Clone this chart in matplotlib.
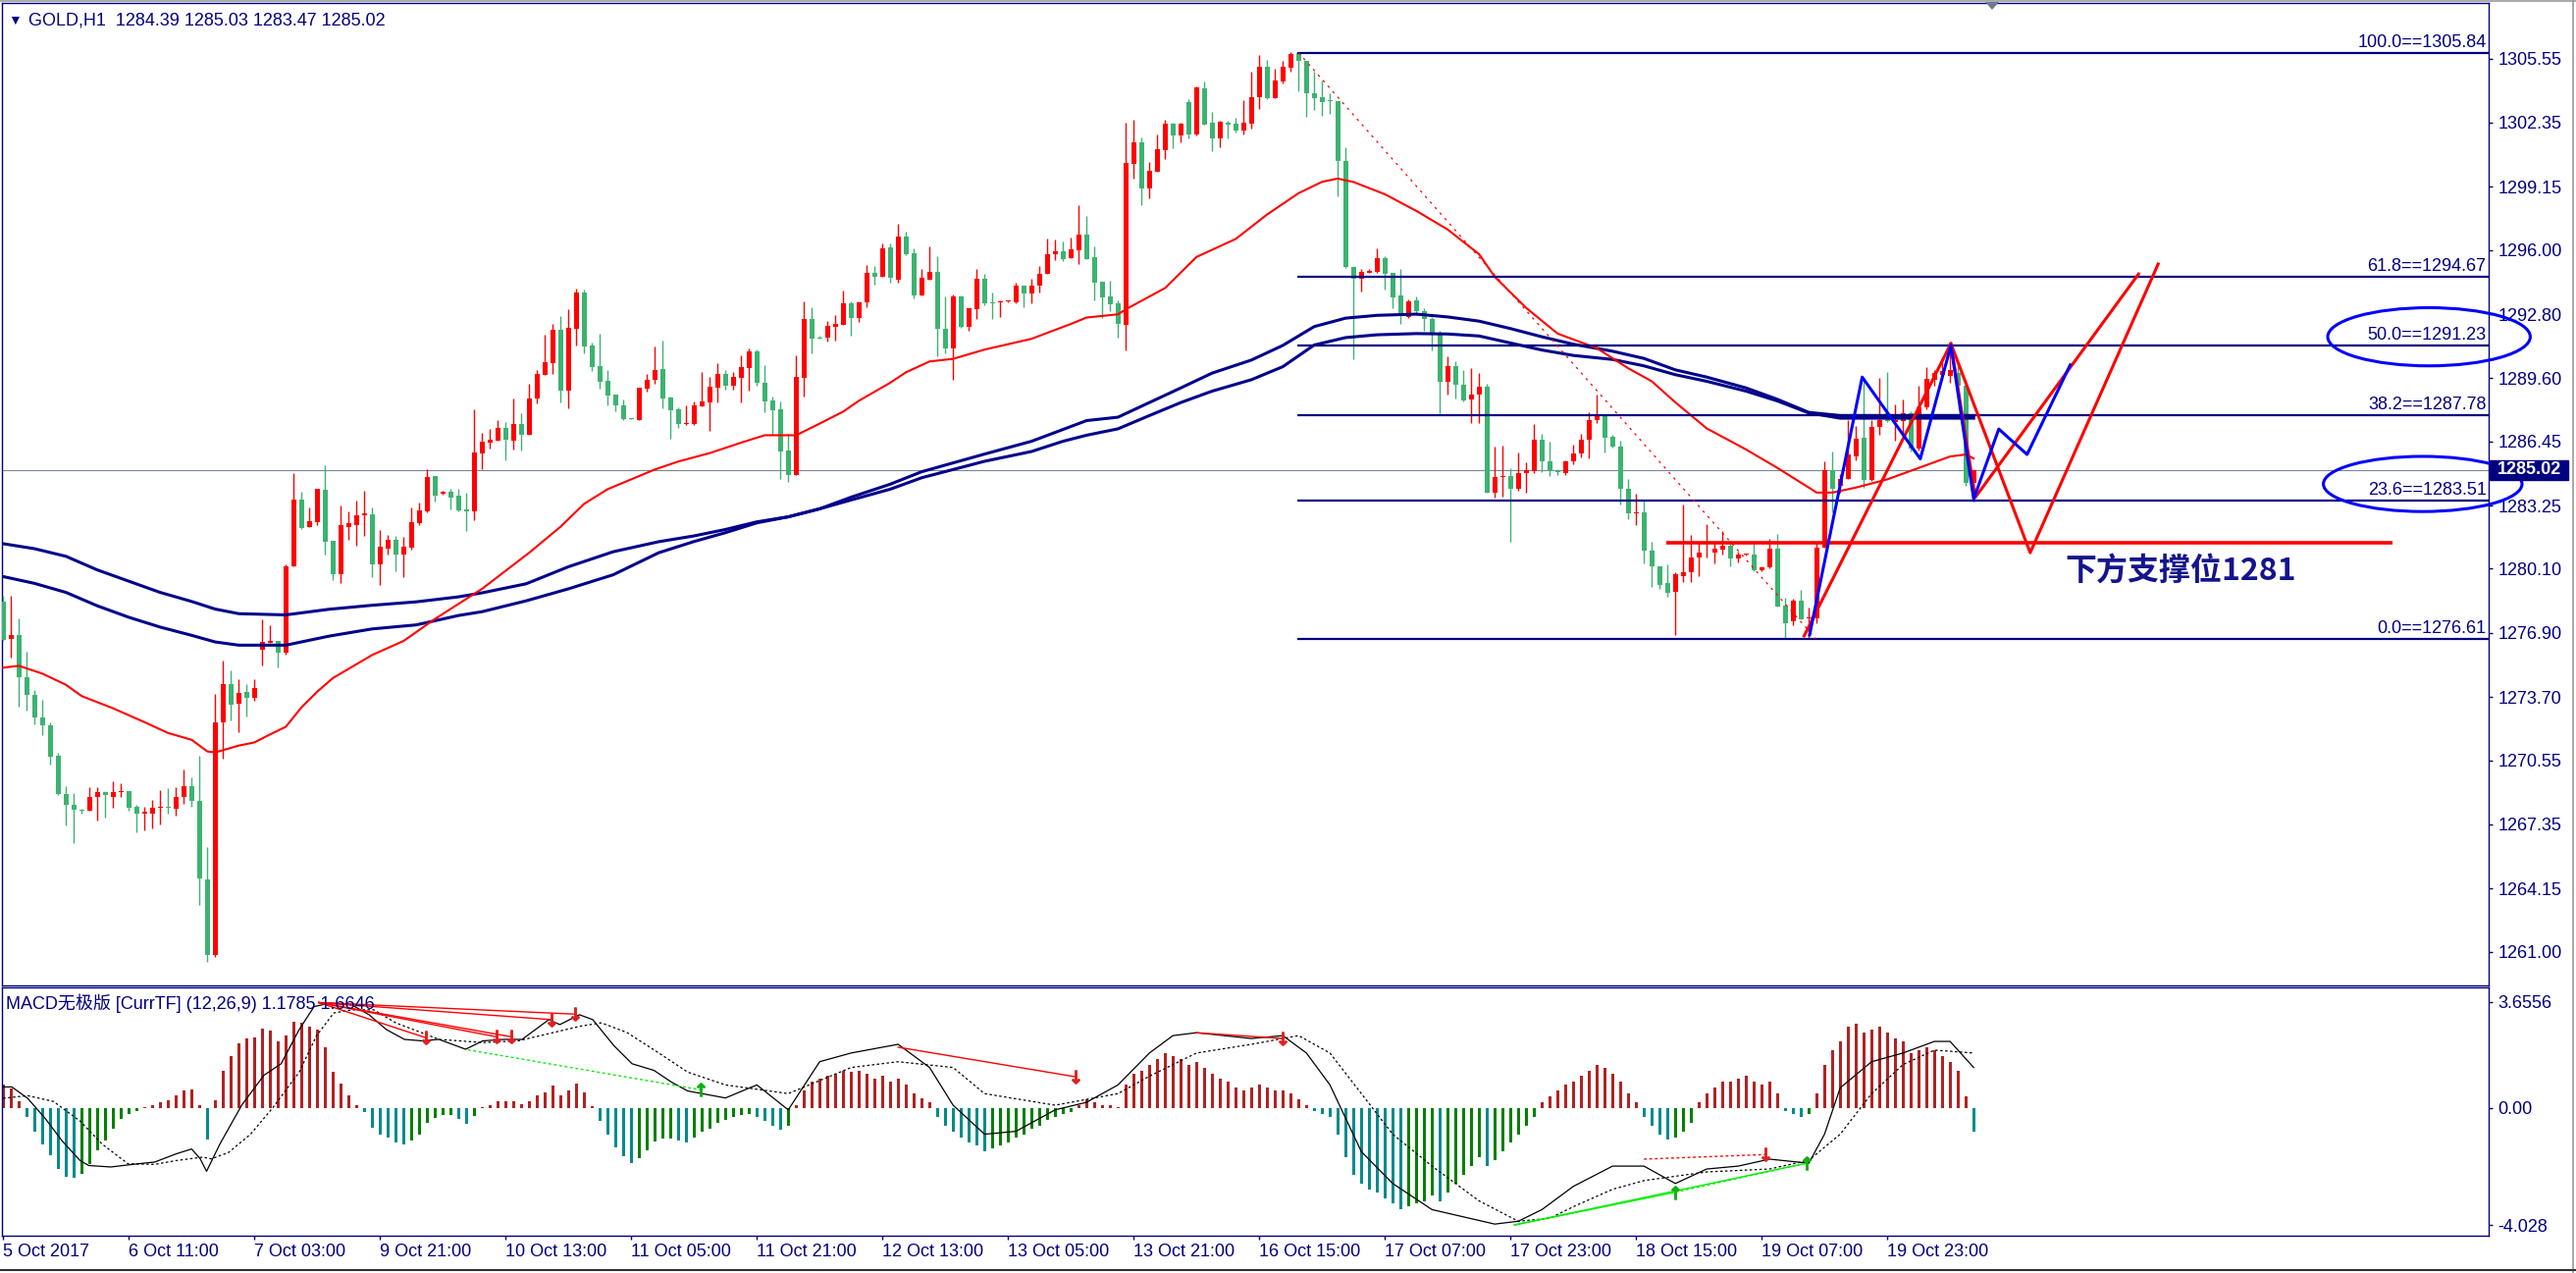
import matplotlib
matplotlib.use("Agg")
import matplotlib.pyplot as plt
import matplotlib.transforms as mtrans
from matplotlib.patches import Ellipse, Polygon, Rectangle
from matplotlib.lines import Line2D

plt.rcParams['font.family'] = ['Liberation Sans', 'DejaVu Sans', 'Noto Sans CJK SC']

# ---------------- data ----------------
OPEN = [
1278.47,1276.60,1276.78,1274.69,1273.82,1272.67,1272.29,1270.78,1268.87,1268.31,
1268.09,1268.02,1268.74,1268.96,1268.74,1268.96,1269.01,1268.25,1267.91,1267.91,
1268.16,1268.22,1268.13,1268.70,1269.26,1268.54,1264.60,1260.83,1272.45,1274.36,
1273.35,1273.95,1273.64,1276.04,1276.38,1276.51,1275.89,1280.20,1283.55,1282.18,
1282.42,1284.04,1281.50,1279.82,1282.20,1282.28,1282.77,1282.82,1280.30,1281.10,
1281.54,1280.80,1281.14,1282.39,1282.98,1284.73,1283.83,1283.94,1283.75,1283.06,
1282.98,1285.87,1286.41,1286.49,1287.12,1286.49,1287.30,1286.80,1288.59,1289.78,
1290.35,1292.02,1289.00,1292.08,1293.88,1291.22,1290.19,1289.46,1288.77,1288.23,
1287.61,1287.53,1289.10,1289.51,1290.06,1288.64,1288.07,1287.32,1287.34,1288.20,
1288.40,1289.13,1289.81,1289.24,1289.62,1290.11,1290.96,1289.37,1288.48,1288.05,
1285.98,1284.77,1289.62,1292.56,1291.63,1291.63,1292.18,1292.28,1293.34,1292.59,
1293.40,1294.86,1294.68,1296.11,1294.51,1296.67,1295.84,1293.73,1294.51,1294.91,
1292.07,1291.09,1293.70,1292.15,1293.05,1294.56,1293.37,1293.37,1293.43,1293.40,
1294.21,1293.82,1294.23,1294.80,1295.80,1295.93,1295.57,1295.98,1296.79,1295.62,
1294.41,1293.68,1293.32,1292.27,1300.30,1301.36,1299.08,1299.89,1300.99,1302.29,
1301.72,1303.37,1301.77,1304.05,1302.34,1301.57,1302.37,1302.29,1301.96,1302.31,
1303.60,1305.15,1303.56,1304.41,1305.08,1305.80,1305.41,1303.84,1303.64,1303.45,
1303.41,1300.46,1295.17,1294.55,1294.86,1294.90,1295.58,1294.86,1293.73,1292.66,
1293.48,1292.97,1292.55,1291.83,1289.44,1290.23,1289.30,1288.52,1288.78,1289.20,
1283.88,1284.66,1284.73,1284.11,1284.87,1284.97,1286.52,1285.45,1285.01,1284.87,
1285.45,1285.84,1286.52,1287.51,1287.71,1286.68,1286.21,1284.09,1282.85,1282.91,
1281.00,1280.20,1279.38,1278.93,1279.74,1279.91,1280.67,1281.34,1280.92,1281.05,
1281.24,1280.61,1280.79,1280.80,1280.02,1280.18,1281.08,1278.27,1277.46,1278.52,
1277.62,1277.65,1281.13,1285.04,1284.26,1284.60,1285.70,1286.63,1284.51,1287.17,
1287.87,1287.44,1287.49,1287.87,1286.11,1288.15,1289.53,1289.78,1289.70,1289.86,
1289.21,1284.39]
HIGH = [
1278.76,1278.76,1277.64,1275.98,1274.04,1273.57,1272.45,1270.94,1269.26,1268.92,
1268.13,1269.21,1269.19,1269.03,1269.50,1269.41,1269.01,1268.34,1268.25,1268.58,
1269.08,1269.17,1269.19,1270.09,1269.71,1270.78,1266.22,1273.86,1275.53,1275.03,
1274.60,1274.36,1274.60,1277.57,1277.30,1276.51,1280.33,1284.85,1283.95,1283.17,
1284.09,1285.28,1281.50,1283.26,1282.98,1283.50,1283.99,1283.17,1282.03,1281.79,
1281.74,1281.71,1283.17,1283.40,1285.05,1284.73,1283.99,1284.11,1284.11,1283.91,
1288.07,1286.88,1287.09,1287.53,1287.42,1288.61,1287.86,1289.33,1290.02,1291.79,
1292.31,1292.70,1293.05,1294.07,1294.02,1291.38,1291.82,1289.99,1288.77,1288.56,
1287.62,1289.13,1289.82,1291.20,1291.50,1288.69,1288.15,1288.23,1288.43,1289.91,
1289.67,1290.35,1290.03,1289.91,1290.76,1291.09,1291.04,1290.27,1288.69,1288.43,
1286.85,1290.76,1293.45,1293.16,1291.72,1292.48,1292.77,1293.98,1293.42,1293.42,
1295.25,1295.20,1296.34,1296.34,1297.32,1296.93,1296.06,1295.05,1296.20,1295.69,
1293.70,1293.78,1293.75,1293.10,1295.05,1294.79,1293.86,1293.51,1293.49,1294.38,
1294.21,1294.56,1295.21,1296.58,1296.52,1296.42,1296.61,1298.23,1297.69,1296.17,
1294.41,1294.46,1293.48,1302.34,1302.50,1301.61,1300.38,1301.77,1302.50,1302.34,
1302.34,1303.53,1304.18,1304.41,1302.91,1302.47,1302.47,1302.58,1303.48,1304.90,
1305.72,1305.47,1305.03,1305.41,1305.85,1305.88,1305.41,1304.90,1304.46,1303.82,
1303.41,1301.14,1295.17,1295.07,1295.03,1296.10,1295.69,1294.86,1295.07,1293.56,
1293.69,1293.11,1292.66,1291.98,1290.68,1290.47,1290.02,1290.12,1289.86,1289.34,
1286.21,1286.25,1285.12,1285.90,1285.39,1287.34,1286.83,1286.46,1285.05,1285.53,
1286.31,1286.83,1287.90,1288.78,1287.75,1286.77,1286.48,1284.60,1283.84,1283.53,
1281.47,1280.20,1280.31,1279.91,1283.33,1281.78,1281.41,1282.32,1281.41,1281.99,
1281.45,1280.97,1280.84,1281.45,1280.23,1281.57,1281.83,1278.68,1278.60,1279.04,
1278.19,1281.45,1285.45,1285.97,1284.80,1287.54,1287.21,1289.61,1287.54,1289.61,
1289.89,1288.31,1288.55,1287.98,1289.24,1290.18,1290.02,1290.67,1291.00,1290.35,
1289.53,1285.03]
LOW = [
1276.51,1275.66,1273.23,1273.01,1272.34,1271.80,1270.31,1268.81,1267.30,1266.40,
1267.91,1268.02,1267.53,1267.68,1268.20,1268.70,1268.02,1266.94,1267.05,1267.17,
1267.35,1267.91,1267.80,1268.36,1268.25,1263.35,1260.49,1260.72,1270.65,1272.56,
1271.93,1272.74,1273.52,1275.28,1276.38,1275.17,1275.84,1280.20,1282.06,1282.18,
1282.29,1280.83,1279.52,1279.40,1281.54,1281.25,1281.74,1279.70,1279.30,1280.80,
1280.00,1279.70,1281.05,1282.28,1282.93,1283.47,1283.78,1283.04,1282.98,1282.00,
1282.52,1285.05,1286.11,1286.49,1285.49,1286.06,1285.98,1286.80,1288.36,1289.78,
1289.83,1288.40,1288.12,1291.25,1290.84,1289.98,1289.08,1288.27,1287.94,1287.53,
1287.56,1287.53,1288.92,1289.34,1288.10,1286.60,1287.14,1287.25,1287.29,1288.20,
1286.98,1288.40,1289.05,1289.05,1288.40,1289.00,1289.21,1287.91,1286.80,1284.59,
1284.45,1284.77,1288.69,1290.84,1291.58,1291.41,1291.50,1292.28,1291.74,1292.43,
1293.13,1294.27,1294.68,1294.38,1294.38,1295.74,1293.58,1293.73,1294.51,1290.68,
1290.84,1289.54,1292.12,1291.95,1292.56,1293.26,1292.56,1292.66,1293.40,1293.32,
1293.15,1293.35,1293.89,1294.80,1295.49,1295.45,1295.57,1295.29,1295.54,1293.48,
1292.63,1292.93,1291.62,1291.00,1299.57,1298.26,1298.59,1299.89,1300.55,1301.08,
1301.39,1301.57,1301.69,1302.26,1300.92,1301.12,1301.57,1301.85,1301.77,1302.06,
1303.04,1303.51,1303.56,1304.33,1304.87,1303.92,1302.62,1302.99,1302.71,1302.79,
1298.67,1295.11,1290.53,1293.93,1294.86,1294.86,1294.04,1293.11,1292.29,1292.60,
1292.74,1291.98,1291.01,1287.86,1288.78,1288.58,1288.43,1287.38,1287.38,1283.88,
1283.63,1283.68,1281.47,1284.00,1283.88,1284.87,1284.91,1284.71,1284.77,1284.77,
1285.32,1285.65,1285.59,1287.38,1285.90,1286.15,1283.33,1282.56,1282.30,1280.38,
1279.21,1279.12,1278.71,1276.81,1279.45,1279.42,1279.74,1280.64,1280.39,1280.83,
1280.23,1280.43,1280.76,1279.99,1279.99,1280.12,1278.22,1276.67,1277.29,1277.57,
1276.67,1277.38,1281.13,1282.92,1283.90,1284.56,1285.49,1284.15,1284.47,1286.76,
1287.41,1286.51,1286.59,1285.94,1286.02,1288.06,1289.21,1289.70,1289.37,1288.80,
1284.23,1283.47]
CLOSE = [
1276.56,1276.78,1274.69,1273.82,1272.67,1272.27,1270.72,1268.85,1268.31,1268.07,
1268.02,1268.70,1268.96,1268.81,1268.96,1269.01,1268.20,1267.91,1267.98,1268.18,
1268.22,1268.20,1268.70,1269.26,1268.52,1264.65,1260.83,1272.45,1274.36,1273.30,
1273.91,1273.64,1274.15,1276.45,1276.51,1275.89,1280.22,1283.55,1282.13,1282.47,
1284.09,1281.46,1279.82,1282.28,1282.36,1282.77,1282.85,1280.33,1281.20,1281.54,
1280.80,1281.18,1282.41,1283.01,1284.68,1283.75,1283.94,1283.66,1283.01,1282.98,
1285.90,1286.44,1286.52,1287.12,1286.55,1287.30,1286.80,1288.59,1289.81,1290.40,
1292.02,1288.97,1292.12,1293.88,1291.20,1290.16,1289.44,1288.76,1288.23,1287.58,
1287.58,1289.13,1289.54,1290.03,1288.61,1288.02,1287.34,1287.37,1288.23,1288.43,
1289.18,1289.81,1289.24,1289.67,1290.16,1290.96,1289.37,1288.44,1288.02,1285.95,
1284.77,1289.67,1292.56,1291.58,1291.58,1292.20,1292.31,1293.34,1292.59,1293.37,
1294.86,1294.68,1296.08,1294.60,1296.67,1295.79,1293.73,1294.60,1294.91,1292.07,
1291.09,1293.70,1292.15,1293.10,1294.56,1293.34,1293.34,1293.45,1293.45,1294.21,
1293.82,1294.21,1294.83,1295.81,1295.93,1295.54,1296.03,1296.79,1295.54,1294.38,
1293.64,1293.28,1292.31,1300.33,1301.36,1299.08,1299.94,1301.02,1302.29,1301.72,
1302.29,1301.77,1304.10,1302.26,1301.56,1302.39,1302.26,1301.96,1302.34,1303.61,
1305.15,1303.56,1304.46,1305.15,1305.77,1305.41,1303.81,1303.56,1303.37,1303.41,
1300.42,1295.17,1294.55,1294.90,1294.96,1295.58,1294.80,1293.63,1292.74,1293.46,
1292.94,1292.55,1291.87,1289.44,1290.23,1289.30,1288.48,1288.78,1289.20,1283.88,
1284.66,1284.73,1284.11,1284.87,1285.01,1286.56,1285.45,1285.01,1284.91,1285.45,
1285.86,1286.56,1287.51,1287.71,1286.62,1286.21,1284.09,1282.85,1282.91,1281.00,
1280.24,1279.30,1278.89,1279.81,1279.91,1280.64,1280.92,1281.41,1281.08,1281.24,
1280.61,1280.80,1280.80,1280.02,1280.18,1281.08,1278.22,1277.38,1278.52,1277.57,
1277.70,1281.13,1285.04,1284.07,1284.60,1285.78,1286.59,1284.51,1287.17,1287.54,
1287.49,1287.54,1287.87,1286.11,1288.15,1289.56,1289.86,1289.94,1290.02,1289.21,
1284.39,1285.02]

# moving averages (bar index, price)
RED_MA_X = [0,2,5,8,10,14,18,21,24,26,27,30,32,34,36,38,40,42,47,51,55,61,67,71,74,77,80,83,86,90,94,97,101,
            104,107,109,113,115,118,121,125,131,136,138,142,143,148,152,157,161,165,168,170,172,176,180,184,188,
            190,194,198,203,207,210,213,217,222,226,230,231,233,236,240,244,248,250,251]
RED_MA_Y = [1275.17,1275.26,1274.87,1274.31,1273.75,1273.14,1272.45,1271.91,1271.57,1270.99,1270.94,1271.28,
            1271.44,1271.84,1272.22,1273.19,1273.97,1274.65,1275.80,1276.50,1277.60,1279.10,1280.90,1282.20,
            1283.34,1284.07,1284.56,1285.05,1285.45,1285.87,1286.39,1286.76,1286.76,1287.34,1287.94,1288.48,
            1289.38,1289.90,1290.44,1290.57,1291.03,1291.57,1292.31,1292.63,1292.79,1293.04,1294.10,1295.65,
            1296.55,1297.77,1298.83,1299.40,1299.56,1299.39,1298.78,1297.95,1297.02,1295.79,1294.66,1293.11,
            1291.83,1291.10,1290.10,1289.45,1288.40,1287.10,1286.05,1285.13,1284.15,1283.90,1283.90,1284.15,
            1284.56,1285.13,1285.70,1285.80,1285.60]
BLUE_UP_X = [0,4,8,12,16,20,24,27,30,36,41.5,47,52.6,58,61,66.6,72,77.7,83.5,88,92,96,100,104,108,113,117,121,
             125,131,138,142,146,150,154,159,163,167,171,175,180,184,188,192,196,200,205,209,213,217,222,226,230,
             234,251]
BLUE_UP_Y = [1281.35,1281.10,1280.72,1280.04,1279.48,1278.92,1278.47,1278.09,1277.86,1277.80,1278.08,1278.28,
             1278.45,1278.70,1278.90,1279.35,1280.20,1280.95,1281.45,1281.74,1282.06,1282.44,1282.69,1283.09,
             1283.67,1284.32,1284.94,1285.38,1285.82,1286.46,1287.49,1287.66,1288.39,1289.12,1289.86,1290.51,
             1291.24,1292.18,1292.60,1292.74,1292.80,1292.66,1292.45,1292.08,1291.67,1291.30,1290.95,1290.59,
             1290.02,1289.66,1289.12,1288.55,1287.90,1287.74,1287.74]
BLUE_LO_X = [0,4,8,12,16,20,24,27,30,36,41.5,47,52.6,58,61,66.6,72,77.7,83.5,88,92,96,100,104,108,113,117,121,
             125,131,135,138,142,146,150,154,159,163,167,171,175,180,184,188,192,196,200,205,209,213,217,222,226,
             230,234,251]
BLUE_LO_Y = [1279.71,1279.37,1278.92,1278.25,1277.68,1277.19,1276.78,1276.45,1276.29,1276.29,1276.74,1277.10,
             1277.30,1277.77,1277.96,1278.50,1279.10,1279.80,1280.90,1281.46,1281.90,1282.39,1282.69,1283.09,
             1283.53,1284.07,1284.64,1285.05,1285.46,1285.95,1286.46,1286.76,1287.08,1287.74,1288.39,1288.96,
             1289.53,1290.18,1291.26,1291.63,1291.77,1291.83,1291.81,1291.71,1291.36,1291.01,1290.74,1290.54,
             1290.22,1289.78,1289.45,1288.96,1288.47,1287.87,1287.61,1287.61]

PRICE_TICKS = [1305.55,1302.35,1299.15,1296.00,1292.80,1289.60,1286.45,1283.25,1280.10,1276.90,
               1273.70,1270.55,1267.35,1264.15,1261.00]
TIME_TICKS = [0,16,32,48,64,80,96,112,128,144,160,176,192,208,224,240]
TIME_LABELS = ["5 Oct 2017","6 Oct 11:00","7 Oct 03:00","9 Oct 21:00","10 Oct 13:00","11 Oct 05:00",
               "11 Oct 21:00","12 Oct 13:00","13 Oct 05:00","13 Oct 21:00","16 Oct 15:00","17 Oct 07:00",
               "17 Oct 23:00","18 Oct 15:00","19 Oct 07:00","19 Oct 23:00"]

FIB_NAMES = ["100.0","61.8","50.0","38.2","23.6","0.0"]
FIB_VALUES = [1305.84,1294.67,1291.23,1287.78,1283.51,1276.61]
FIB_START = 164.8
FIB_TREND_X = [165.0, 230.9]
FIB_TREND_Y = [1305.84, 1276.61]

BID = 1285.02
SUPPORT_X = [211.9, 304.4]
SUPPORT_Y = [1281.4, 1281.4]
SUPPORT_TEXT = "下方支撑位1281"

BLUE_ZZ_X = [230.1,236.8,244.2,248.1,251.0,254.2,257.8,263.3]
BLUE_ZZ_Y = [1276.80,1289.66,1285.58,1291.24,1283.58,1287.07,1285.80,1290.27]
RED_ZZ_A_X = [229.4,248.1,251.2,272.0]
RED_ZZ_A_Y = [1276.75,1291.33,1283.66,1294.80]
RED_ZZ_B_X = [248.1,258.2,274.5]
RED_ZZ_B_Y = [1291.33,1280.90,1295.30]

# ellipse annotations: centre bar, centre price, width (bars), height (price)
ELL_X = [309.0, 308.2]
ELL_Y = [1291.67, 1284.33]
ELL_W = [25.8, 25.3]
ELL_H = [2.9, 2.75]

HEADER = "GOLD,H1  1284.39 1285.03 1283.47 1285.02"
MACD_TITLE = "MACD无极版 [CurrTF] (12,26,9) 1.1785 1.6646"

HIST = [
0.81,0.68,0.23,-0.32,-0.81,-1.24,-1.64,-2.09,-2.37,-2.40,
-2.26,-1.92,-1.47,-1.13,-0.70,-0.37,-0.20,-0.09,0.03,0.09,
0.20,0.26,0.43,0.61,0.64,0.09,-1.10,0.26,1.28,1.81,
2.24,2.41,2.45,2.73,2.66,2.29,2.51,2.99,2.96,2.80,
2.71,2.09,1.24,0.85,0.43,0.11,-0.14,-0.68,-0.90,-1.02,
-1.19,-1.24,-1.11,-0.90,-0.51,-0.34,-0.25,-0.25,-0.36,-0.54,
-0.28,0.02,0.09,0.25,0.25,0.25,0.14,0.25,0.43,0.53,
0.79,0.45,0.60,0.85,0.54,0.06,-0.45,-0.93,-1.36,-1.66,
-1.90,-1.73,-1.45,-1.15,-1.05,-1.05,-1.13,-1.20,-1.00,-0.80,
-0.70,-0.50,-0.40,-0.30,-0.25,-0.20,-0.30,-0.45,-0.60,-0.75,
-0.60,0.10,0.60,0.90,1.00,1.10,1.20,1.30,1.25,1.30,
1.20,1.00,1.10,0.90,1.00,0.80,0.50,0.35,0.20,-0.30,
-0.60,-0.80,-1.00,-1.20,-1.30,-1.50,-1.40,-1.30,-1.20,-1.00,
-0.90,-0.70,-0.60,-0.40,-0.30,-0.20,-0.15,0.10,0.30,0.20,
0.10,0.10,0.05,0.80,1.20,1.30,1.50,1.70,1.90,1.80,
1.70,1.50,1.60,1.40,1.20,1.00,0.90,0.70,0.60,0.70,
0.80,0.70,0.60,0.60,0.50,0.30,0.10,-0.10,-0.20,-0.30,
-0.90,-1.70,-2.30,-2.60,-2.80,-2.90,-3.10,-3.30,-3.50,-3.40,
-3.30,-3.20,-3.00,-3.20,-2.90,-2.60,-2.30,-2.00,-1.70,-2.00,
-1.80,-1.50,-1.20,-0.90,-0.60,-0.30,0.20,0.40,0.60,0.80,
0.90,1.10,1.30,1.50,1.40,1.20,0.90,0.50,0.20,-0.30,
-0.60,-0.90,-1.10,-1.00,-0.80,-0.50,0.20,0.50,0.70,0.90,
0.90,1.00,1.10,0.90,0.80,0.90,0.50,-0.10,-0.20,-0.30,
-0.20,0.50,1.50,2.00,2.30,2.80,2.90,2.60,2.70,2.80,
2.60,2.40,2.30,1.90,2.00,2.10,2.00,1.80,1.60,1.30,
0.40,-0.80]
MACD_X = [0,1.1,3.1,5.3,7.5,9.8,10.9,13.7,16.5,19.3,22.0,24.0,25.1,25.9,27.6,30.4,33.2,35.4,37.7,39.6,41.6,
          44.4,46.6,48.8,51.1,53.3,55.5,58.9,61.1,63.9,66.1,69.5,70.9,73.4,75.1,77.8,80.1,82.9,85.1,87.2,92,96,
          100,104,108,114,118,121,125,129,134,138,142,146,149,152,159,163,166,169,173,177,182,186,190,193,196,
          200,205,209,213,217,221,225,230,232,234,238,242,246,248,251]
MACD_Y = [0.73,0.73,0.34,-0.34,-1.13,-1.81,-1.98,-2.03,-1.94,-1.86,-1.58,-1.41,-1.75,-2.18,-1.24,0.11,1.13,
          1.53,2.71,3.50,3.62,3.56,3.22,2.71,2.37,2.32,2.37,2.03,2.32,2.37,2.37,3.05,2.88,3.22,3.05,2.15,1.53,
          1.30,0.90,0.59,0.35,0.80,-0.06,1.60,1.90,2.20,1.40,0.10,-0.90,-0.80,-0.06,0.20,0.80,1.90,2.50,2.60,
          2.40,2.50,1.90,0.80,-1.50,-2.60,-3.50,-3.75,-4.00,-3.90,-3.50,-2.70,-2.00,-2.00,-2.60,-2.10,-2.00,
          -1.76,-1.90,-0.90,0.70,1.60,1.90,2.30,2.30,1.40]
SIG_X = [0,3.1,6.4,9.8,12.6,15.9,19.3,22.0,25.4,26.5,28.7,31.5,34.3,37.7,39.9,42.1,44.4,47.2,50.0,53.3,55.5,
         61.1,65.6,70.0,73.4,76.2,79.5,83.4,87.2,92,100,108,114,121,125,134,142,146,152,159,165,169,173,177,
         182,188,193,197,200,205,209,217,225,230,234,238,242,246,251]
SIG_Y = [0.34,0.43,0.23,-0.45,-1.24,-1.92,-1.94,-1.81,-1.69,-1.75,-1.53,-0.90,0.00,1.24,2.49,3.28,3.39,3.39,
         2.94,2.60,2.37,2.26,2.32,2.60,2.82,2.94,2.60,1.92,1.24,0.80,0.50,1.40,1.60,1.40,0.50,0.10,0.50,1.10,
         1.90,2.20,2.50,1.90,0.50,-0.90,-2.00,-3.20,-3.90,-3.80,-3.40,-2.80,-2.50,-2.20,-2.10,-1.80,-0.90,0.50,
         1.50,2.00,1.90]

# divergence segments: x0, y0, x1, y1
RED_DIV = [(40.2,3.64,53.8,2.43),(40.2,3.64,62.8,2.46),(40.2,3.64,64.7,2.46),(40.2,3.64,69.9,3.05),
           (40.2,3.64,72.9,3.24),(114,2.10,136.6,1.08),(152,2.60,163,2.40)]
RED_DIV_DOT = [(209,-1.76,224.5,-1.60)]
RED_ARROW_X = [53.8,62.8,64.7,69.9,72.9,136.6,163,224.5]
RED_ARROW_Y = [2.43,2.46,2.46,3.05,3.24,1.08,2.40,-1.60]
GREEN_DIV = [(192.5,-4.03,213,-2.90),(192.5,-4.03,229.7,-1.90)]
GREEN_DIV_DOT = [(59.2,2.01,88.9,0.63),(213,-2.90,229.7,-1.90)]
GREEN_ARROW_X = [88.9,213,229.7]
GREEN_ARROW_Y = [0.63,-2.90,-1.90]

MACD_TICKS = [3.6556, 0.0, -4.028]
MACD_TICK_LABELS = ["3.6556", "0.00", "-4.028"]

# ---------------- figure ----------------
W, H = 2625, 1297
fig = plt.figure(figsize=(W / 100, H / 100), dpi=100)
fig.patch.set_facecolor('white')

def rect(x0, y0, x1, y1):
    return [x0 / W, 1 - y1 / H, (x1 - x0) / W, (y1 - y0) / H]

ax = fig.add_axes(rect(2, 3, 2536, 1004))
mx = fig.add_axes(rect(2, 1006, 2536, 1259))

NAVY = '#000080'
XMIN, XMAX = -0.16, 316.6

n = len(CLOSE)
xs = list(range(n))
cols = ['#ff0000' if c >= o else '#3cb371' for o, c in zip(OPEN, CLOSE)]
ax.vlines(xs, LOW, HIGH, colors=cols, lw=1.0, zorder=3)
bottoms = [min(o, c) for o, c in zip(OPEN, CLOSE)]
heights = [max(abs(c - o), 0.05) for o, c in zip(OPEN, CLOSE)]
ax.bar(xs, heights, bottom=bottoms, width=0.62, color=cols, linewidth=0, zorder=3)

ax.axhline(BID, color='#778899', lw=0.8, zorder=2)
ax.plot(BLUE_UP_X, BLUE_UP_Y, color='#00008b', lw=2.2, zorder=4)
ax.plot(BLUE_LO_X, BLUE_LO_Y, color='#00008b', lw=2.2, zorder=4)
ax.plot(RED_MA_X, RED_MA_Y, color='#ff0000', lw=1.5, zorder=4)

for name, v in zip(FIB_NAMES, FIB_VALUES):
    ax.plot([FIB_START, XMAX], [v, v], color=NAVY, lw=1.6, zorder=5, solid_capstyle='butt')
    ax.annotate(f"{name}=={v:.2f}", xy=(316.3, v), xytext=(0, 1.5), textcoords='offset points',
                ha='right', va='bottom', fontsize=13, color=NAVY, zorder=6)
ax.plot(FIB_TREND_X, FIB_TREND_Y, color='#ff0000', lw=0.9, ls=(0, (2, 4)), zorder=5)

ax.plot(SUPPORT_X, SUPPORT_Y, color='#ff0000', lw=2.6, zorder=6, solid_capstyle='butt')
ax.plot(RED_ZZ_A_X, RED_ZZ_A_Y, color='#ff0000', lw=2.2, zorder=7)
ax.plot(RED_ZZ_B_X, RED_ZZ_B_Y, color='#ff0000', lw=2.2, zorder=7)
ax.plot(BLUE_ZZ_X, BLUE_ZZ_Y, color='#0000ff', lw=2.2, zorder=8)
ax.text(262.6, 1279.95, SUPPORT_TEXT, fontsize=23, fontweight='bold', color='#14148c',
        family=['Noto Sans CJK SC', 'DejaVu Sans'], ha='left', va='center', zorder=8)

for ex, ey, ew, eh in zip(ELL_X, ELL_Y, ELL_W, ELL_H):
    ax.add_patch(Ellipse((ex, ey), ew, eh, fill=False, ec='#0000ff', lw=2.2, zorder=10, clip_on=False))

# bid price box on the axis
bt = mtrans.blended_transform_factory(ax.transAxes, ax.transData)
ax.add_patch(Rectangle((1.0005, BID - 0.47), 80 / 2534, 0.94, transform=bt, fc=NAVY, ec=NAVY,
                       clip_on=False, zorder=11))
ax.text(1.0005 + 40 / 2534, BID, f"{BID:.2f}", transform=bt, color='white', fontsize=13,
        fontweight='bold', ha='center', va='center', clip_on=False, zorder=12)

# MACD pane
hc = []
for i, v in enumerate(HIST):
    if v >= 0:
        hc.append('#b22222')
    elif i > 0 and v < HIST[i - 1]:
        hc.append('#008b8b')
    else:
        hc.append('#008000')
mx.bar(xs, HIST, width=0.38, color=hc, linewidth=0, zorder=2)
mx.plot(MACD_X, MACD_Y, color='black', lw=0.9, zorder=3)
mx.plot(SIG_X, SIG_Y, color='black', lw=0.9, ls=(0, (2, 2)), zorder=3)
for x0, y0, x1, y1 in RED_DIV:
    mx.plot([x0, x1], [y0, y1], color='#ff0000', lw=1.0, zorder=4)
for x0, y0, x1, y1 in RED_DIV_DOT:
    mx.plot([x0, x1], [y0, y1], color='#ff0000', lw=1.0, ls=(0, (2, 2)), zorder=4)
for x0, y0, x1, y1 in GREEN_DIV:
    mx.plot([x0, x1], [y0, y1], color='#00ee00', lw=1.0, zorder=4)
for x0, y0, x1, y1 in GREEN_DIV_DOT:
    mx.plot([x0, x1], [y0, y1], color='#00ee00', lw=1.0, ls=(0, (2, 2)), zorder=4)
mx.scatter(RED_ARROW_X, RED_ARROW_Y, marker=r'$\downarrow$', s=90, color='#e02020', zorder=5)
mx.scatter(GREEN_ARROW_X, GREEN_ARROW_Y, marker=r'$\uparrow$', s=90, color='#10b010', zorder=5)

for a in (ax, mx):
    a.set_xlim(XMIN, XMAX)
    a.set_facecolor('white')
    for s in a.spines.values():
        s.set_color(NAVY)
        s.set_linewidth(1.0)
    a.yaxis.tick_right()
    a.tick_params(axis='y', direction='out', length=3, width=1, color=NAVY, labelcolor=NAVY,
                  labelsize=13, pad=4)

ax.set_ylim(1259.32, 1308.32)
ax.set_yticks(PRICE_TICKS)
ax.set_yticklabels([f"{t:.2f}" for t in PRICE_TICKS])
ax.set_xticks([])

mx.set_ylim(-4.40, 4.163)
mx.set_yticks(MACD_TICKS)
mx.set_yticklabels(MACD_TICK_LABELS)
mx.set_xticks(TIME_TICKS)
mx.set_xticklabels(TIME_LABELS, ha='left')
mx.tick_params(axis='x', direction='out', length=3, width=1, color=NAVY, labelcolor=NAVY,
               labelsize=13, pad=3)

# header texts
fig.text(8 / W, 1 - 21 / H, "▼", fontsize=10, color=NAVY, va='center', ha='left')
fig.text(29 / W, 1 - 21 / H, HEADER, fontsize=13, color=NAVY, va='center', ha='left')
fig.text(6 / W, 1 - 1022 / H, MACD_TITLE, fontsize=13, color=NAVY, va='center', ha='left')

# window frame and chart-shift marker
fig.add_artist(Line2D([0, 1], [1 - 1 / H, 1 - 1 / H], color='#9a9a9a', lw=1.2))
fig.add_artist(Line2D([2622 / W, 2622 / W], [0, 1], color='#9a9a9a', lw=1.2))
fig.add_artist(Line2D([0, 1], [1 - 1294 / H, 1 - 1294 / H], color='#303030', lw=1.5))
fig.add_artist(Polygon([(2023 / W, 1 - 2 / H), (2037 / W, 1 - 2 / H), (2030 / W, 1 - 10 / H)],
                       closed=True, fc='#6b7b94', ec='none', transform=fig.transFigure))

fig.savefig("out.png", dpi=100, facecolor='white')
